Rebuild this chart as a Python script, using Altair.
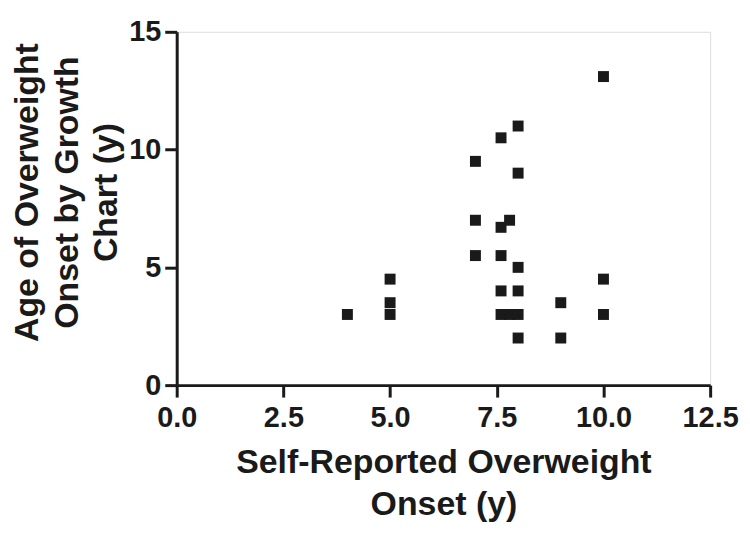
import altair as alt
import pandas as pd

self_reported = [4, 5, 5, 5, 7, 7, 7, 7.6, 8, 8, 7.8, 7.6, 7.6, 8, 7.6, 8, 7.6, 7.8, 8, 8, 9, 9, 10, 10, 10]
growth_chart = [3, 4.5, 3.5, 3, 9.5, 7, 5.5, 10.5, 11, 9, 7, 6.7, 5.5, 5, 4, 4, 3, 3, 3, 2, 3.5, 2, 13.1, 4.5, 3]

df = pd.DataFrame({"x": self_reported, "y": growth_chart})

FONT = "Liberation Sans"

chart = alt.Chart(df).mark_point(
    shape="square", filled=True, size=121, color="#1a1a1a", opacity=1
).encode(
    x=alt.X("x:Q", scale=alt.Scale(domain=[0, 12.5], nice=False, zero=False),
            axis=alt.Axis(
                values=[0, 2.5, 5, 7.5, 10, 12.5], format=".1f",
                title=["Self-Reported Overweight", "Onset (y)"],
                titleFont=FONT, titleFontSize=34, titleFontWeight="bold",
                titleLineHeight=42, titleColor="#1a1a1a",
                titleX=268, titleY=61, titleAlign="center", titleBaseline="top",
                labelFont=FONT, labelFontSize=29, labelFontWeight="bold",
                labelColor="#1a1a1a", labelPadding=7, labelFlush=False,
                tickSize=12, tickWidth=3, tickColor="#1a1a1a",
                domainWidth=3, domainColor="#1a1a1a", grid=False)),
    y=alt.Y("y:Q", scale=alt.Scale(domain=[0, 15], nice=False, zero=False),
            axis=alt.Axis(
                values=[0, 5, 10, 15],
                title=["Age of Overweight", "Onset by Growth", "Chart (y)"],
                titleFont=FONT, titleFontSize=34, titleFontWeight="bold",
                titleLineHeight=40, titleColor="#1a1a1a",
                titleAngle=-90, titleX=-167, titleY=161,
                titleAlign="center", titleBaseline="top",
                labelFont=FONT, labelFontSize=29, labelFontWeight="bold",
                labelColor="#1a1a1a", labelPadding=4, labelFlush=False,
                tickSize=12, tickWidth=3, tickColor="#1a1a1a",
                domainWidth=3, domainColor="#1a1a1a", grid=False)),
).properties(
    width=536, height=355,
    autosize=alt.AutoSizeParams(type="none"),
    padding={"left": 169.5, "top": 22.7, "right": 32, "bottom": 140},
).configure_view(stroke=None).configure(background="white")

chart.save("out.html", embed_options={"renderer": "svg", "actions": False})
